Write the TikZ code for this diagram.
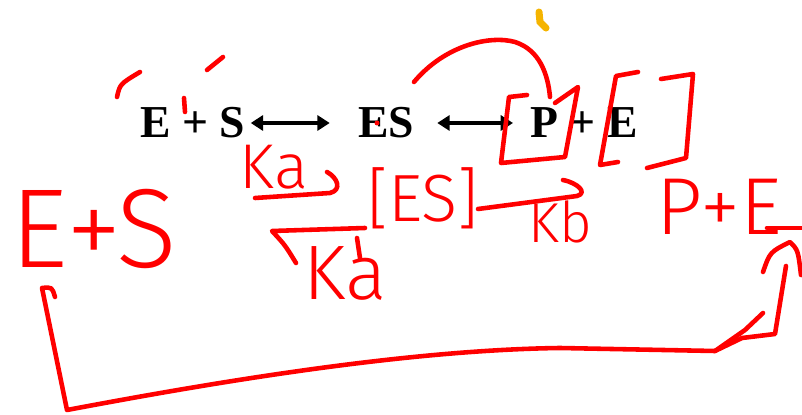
\documentclass[tikz,border=0pt]{standalone}
\usepackage{fontspec}
\setmainfont{Liberation Serif}
\newfontfamily\handfont{Fira Sans Light}
\usepackage{tikz}
\usetikzlibrary{arrows.meta}
\definecolor{marker}{RGB}{245,180,0}

\begin{document}
\begin{tikzpicture}[x={(0.02cm,0)},y={(0,-0.02cm)},
    ink/.style={red, line width = 2.6pt, line cap = round, line join = round},
    hand/.style={red, inner sep = 0pt, font = \handfont\fontsize{#1}{#1}\selectfont},
    eq/.style={inner sep = 0pt, font = \fontsize{26}{28}\selectfont\bfseries},
    dbl/.style={{Triangle[length=7pt,width=8.5pt]}-{Triangle[length=7pt,width=8.5pt]}, line width = 2pt}]
        \useasboundingbox (0,0) rectangle (802,415);

        \node [eq](eps) at (193,123){E + S};
        \node [eq](es) at (386,123){ES};
        \node [eq](pe) at (584,123){P + E};

        \draw [dbl, shorten < = 0.1cm, shorten > = 0.56cm] (eps.east) -- (es.west);
        \draw [dbl, shorten < = 0.46cm, shorten > = 0.34cm] (es.east) -- (pe.west);

        \node [hand=64](res) at (94,229){E+S};
        \node [hand=36](rka) at (274,167){Ka};
        \node [hand=44](rkc) at (345,273){Ka};
        \node [hand=38](res2) at (423,198){[ES]};
        \node [hand=32](rkb) at (560,222){Kb};
        \node [hand=46](rpe) at (719,207){P+E};

        \draw [ink] (117,97) .. controls (120,84) .. (140,72);
        \draw [ink] (207,70) -- (223,57);
        \draw [ink] (184,98) -- (185,112);
        \fill [red] (377,123) circle (2.5);
        \draw [ink] (414,82) .. controls (445,45) and (490,35) .. (515,42) .. controls (540,50) and (548,75) .. (550,97);
        \draw [ink] (527,95) -- (509,97) -- (501,163) -- (565,157) -- (578,87) -- (555,103);
        \draw [ink] (638,72) -- (616,76) -- (600,165) -- (618,162);
        \draw [ink] (661,79) -- (693,74) -- (686,158) -- (647,168);
        \draw [marker, line width = 4pt, line cap = round] (539,12) -- (540,22) -- (546,28);

        \draw [ink] (255,198) -- (330,193) .. controls (342,190) and (338,178) .. (327,172);
        \draw [ink] (296,263) .. controls (285,245) .. (272,231) -- (365,228);
        \draw [ink] (357,238) -- (360,258);
        \draw [ink] (478,209) -- (577,196) .. controls (588,193) and (578,183) .. (563,180);
        \draw [ink] (767,228) -- (802,228);

        \coordinate (lp1) at (55,297);
        \coordinate (lp2) at (786,266);
        \draw [ink] (lp1) .. controls (52,287) .. (42,288) -- (67,410) .. controls (200,385) and (400,350) .. (560,348) -- (715,351) -- (742,338) -- (775,334) -- (lp2);
        \draw [ink] (715,351) -- (745,330) -- (763,313);
        \draw [ink] (763,272) .. controls (770,252) .. (790,242) .. controls (798,250) .. (801,275);
      \end{tikzpicture}
\end{document}
